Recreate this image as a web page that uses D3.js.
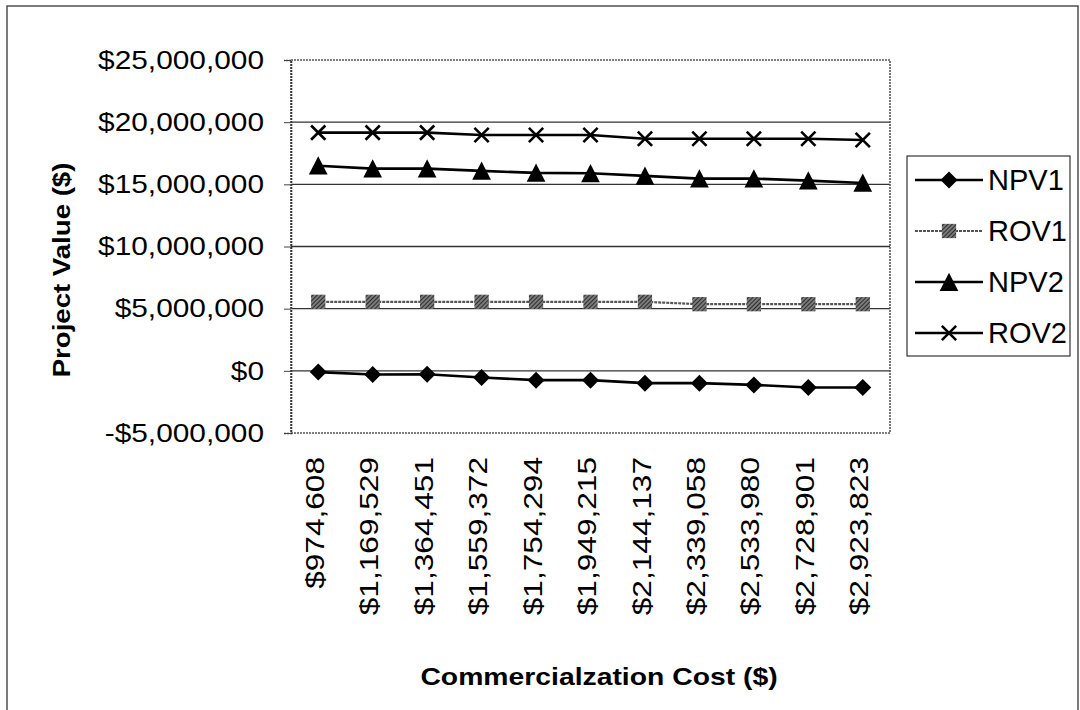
<!DOCTYPE html>
<html>
<head>
<meta charset="utf-8">
<script src="https://cdn.jsdelivr.net/npm/d3@7"></script>
<style>
  body { margin: 0; background: #fff; }
  text { font-family: "Liberation Sans", Arial, sans-serif; fill: #000; }
</style>
</head>
<body>
<svg width="1080" height="710"></svg>
<script>
var w = 1080, h = 710;

// categories (commercialization cost)
var costs = ["$974,608", "$1,169,529", "$1,364,451", "$1,559,372", "$1,754,294",
             "$1,949,215", "$2,144,137", "$2,339,058", "$2,533,980", "$2,728,901", "$2,923,823"];

// series values
var npv1 = [-100000, -300000, -270000, -540000, -750000, -750000, -990000, -990000, -1130000, -1340000, -1340000];
var rov1 = [5550000, 5550000, 5550000, 5550000, 5550000, 5550000, 5550000, 5360000, 5360000, 5360000, 5360000];
var npv2 = [16500000, 16260000, 16260000, 16080000, 15920000, 15890000, 15680000, 15460000, 15460000, 15300000, 15110000];
var rov2 = [19160000, 19160000, 19160000, 18970000, 18970000, 18970000, 18670000, 18670000, 18670000, 18670000, 18570000];

var seriesNames = ["NPV1", "ROV1", "NPV2", "ROV2"];
var yTicks = [-5000000, 0, 5000000, 10000000, 15000000, 20000000, 25000000];

var series = [
  { name: "NPV1", values: npv1, marker: "diamond" },
  { name: "ROV1", values: rov1, marker: "square" },
  { name: "NPV2", values: npv2, marker: "triangle" },
  { name: "ROV2", values: rov2, marker: "cross" }
];

var svg = d3.select("svg");

// hatched fill for the ROV1 squares
var defs = svg.append("defs");
var pat = defs.append("pattern")
    .attr("id", "hatch")
    .attr("width", 3).attr("height", 3)
    .attr("patternUnits", "userSpaceOnUse")
    .attr("patternTransform", "rotate(45)");
pat.append("rect").attr("width", 3).attr("height", 3).attr("fill", "#7a7a7a");
pat.append("line").attr("x1", 0).attr("y1", 0).attr("x2", 0).attr("y2", 3)
    .attr("stroke", "#1a1a1a").attr("stroke-width", 1.6);

// stretch text horizontally like the scanned original
function stretch(sel, k) {
  sel.each(function() {
    var len = this.getComputedTextLength();
    d3.select(this).attr("textLength", len * k).attr("lengthAdjust", "spacingAndGlyphs");
  });
}

// outer frame
svg.append("rect")
    .attr("x", 7).attr("y", 6)
    .attr("width", 1071).attr("height", 720)
    .attr("fill", "none").attr("stroke", "#444").attr("stroke-width", 1.4);

var plotLeft = 291, plotRight = 890, plotTop = 60, plotBottom = 433;

var x = d3.scalePoint().domain(costs).range([plotLeft, plotRight]).padding(0.5);
var y = d3.scaleLinear().domain([-5000000, 25000000]).range([plotBottom, plotTop]);

var fmt = d3.format(",");
function money(v) { return v < 0 ? "-$" + fmt(-v) : "$" + fmt(v); }

// gridlines
svg.append("g").selectAll("line")
  .data(yTicks.slice(1, -1))
  .join("line")
    .attr("x1", plotLeft).attr("x2", plotRight)
    .attr("y1", function(d) { return y(d); })
    .attr("y2", function(d) { return y(d); })
    .attr("stroke", "#333").attr("stroke-width", 1.3);

// plot border
svg.append("rect")
    .attr("x", plotLeft).attr("y", plotTop)
    .attr("width", plotRight - plotLeft).attr("height", plotBottom - plotTop)
    .attr("fill", "none").attr("stroke", "#555")
    .attr("stroke-width", 1.6).attr("stroke-dasharray", "2,1");

// y axis
var yAxis = svg.append("g")
    .attr("transform", "translate(" + plotLeft + ",0)")
    .call(d3.axisLeft(y).tickValues(yTicks).tickFormat(money).tickSize(7).tickPadding(20));
yAxis.select(".domain").attr("stroke", "#333").attr("stroke-dasharray", "2,1").attr("stroke-width", 1.6);
yAxis.selectAll(".tick line").attr("stroke", "#444");
yAxis.selectAll("text")
    .style("font-family", "Liberation Sans, Arial, sans-serif")
    .style("font-size", "25.5px")
    .attr("fill", "#000")
    .call(stretch, 1.17);

// x axis
var xAxis = svg.append("g")
    .attr("transform", "translate(0," + plotBottom + ")")
    .call(d3.axisBottom(x).tickSize(0).tickPadding(0));
xAxis.select(".domain").remove();
xAxis.selectAll("text")
    .style("font-family", "Liberation Sans, Arial, sans-serif")
    .style("font-size", "25.5px")
    .attr("fill", "#000")
    .attr("text-anchor", "end")
    .attr("transform", "rotate(-90)")
    .attr("x", -24).attr("y", 0).attr("dy", "0.2em")
    .call(stretch, 1.24);

// axis titles
svg.append("text")
    .attr("text-anchor", "middle")
    .attr("transform", "translate(70,270) rotate(-90)")
    .style("font-size", "24px").style("font-weight", "bold")
    .text("Project Value ($)")
    .call(stretch, 1.15);

svg.append("text")
    .attr("text-anchor", "middle")
    .attr("x", 599).attr("y", 685)
    .style("font-size", "24px").style("font-weight", "bold")
    .text("Commercialzation Cost ($)")
    .call(stretch, 1.18);

// marker drawing
function drawMarker(g, type, s) {
  if (type === "diamond") {
    g.append("path").attr("d", d3.symbol(d3.symbolSquare, s * s * 0.5)())
      .attr("transform", "rotate(45)").attr("fill", "#000");
  } else if (type === "square") {
    g.append("rect").attr("x", -s * 0.42).attr("y", -s * 0.42)
      .attr("width", s * 0.84).attr("height", s * 0.84).attr("fill", "url(#hatch)");
  } else if (type === "triangle") {
    var a = s * 0.55;
    g.append("path").attr("d", "M0," + (-a) + "L" + a + "," + (a * 0.95) + "L" + (-a) + "," + (a * 0.95) + "Z")
      .attr("fill", "#000");
  } else if (type === "cross") {
    var c = s * 0.42;
    g.append("path").attr("d", "M" + (-c) + "," + (-c) + "L" + c + "," + c + "M" + (-c) + "," + c + "L" + c + "," + (-c))
      .attr("stroke", "#000").attr("stroke-width", 2.6).attr("fill", "none");
  }
}

var line = d3.line()
    .x(function(d, i) { return x(costs[i]); })
    .y(function(d) { return y(d); });

series.forEach(function(s) {
  var isRov1 = s.name === "ROV1";
  svg.append("path")
      .datum(s.values)
      .attr("d", line)
      .attr("fill", "none")
      .attr("stroke", isRov1 ? "#555" : "#000")
      .attr("stroke-width", isRov1 ? 2.2 : 2.6)
      .attr("stroke-dasharray", isRov1 ? "3,1" : null);
  s.values.forEach(function(v, i) {
    var g = svg.append("g").attr("transform", "translate(" + x(costs[i]) + "," + y(v) + ")");
    drawMarker(g, s.marker, 17);
  });
});

// legend
var lg = svg.append("g");
lg.append("rect")
    .attr("x", 907).attr("y", 156)
    .attr("width", 163).attr("height", 200)
    .attr("fill", "#fff").attr("stroke", "#333").attr("stroke-width", 1.2);

seriesNames.forEach(function(name, i) {
  var s = series[i];
  var cy = 180 + i * 51;
  var isRov1 = name === "ROV1";
  lg.append("line")
      .attr("x1", 915).attr("x2", 983).attr("y1", cy).attr("y2", cy)
      .attr("stroke", isRov1 ? "#555" : "#000")
      .attr("stroke-width", isRov1 ? 2 : 2.4)
      .attr("stroke-dasharray", isRov1 ? "3,1" : null);
  var g = lg.append("g").attr("transform", "translate(949," + cy + ")");
  drawMarker(g, s.marker, 17);
  lg.append("text")
      .attr("x", 988).attr("y", cy).attr("dy", "0.36em")
      .style("font-size", "29px")
      .text(name);
});
</script>
</body>
</html>
